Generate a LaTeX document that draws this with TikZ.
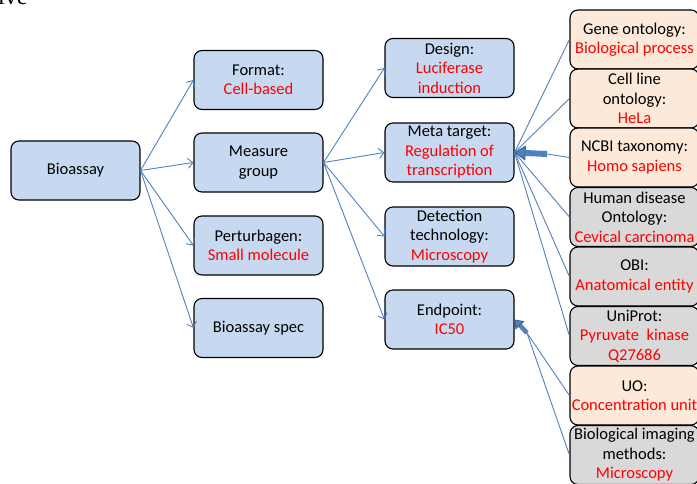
\documentclass[tikz,border=0pt]{standalone}
\usepackage{fontspec}
\setmainfont{Carlito}
\newfontfamily\titlefont{Liberation Serif}
\usetikzlibrary{arrows.meta}
\definecolor{boxblue}{HTML}{C6D9F1}
\definecolor{boxpeach}{HTML}{FDE9D9}
\definecolor{boxgray}{HTML}{D9D9D9}
\definecolor{linkblue}{HTML}{4F81BD}
\definecolor{linkdark}{HTML}{385D8A}
\definecolor{valred}{HTML}{FF0000}
\newcommand{\valtxt}[1]{\textcolor{valred}{#1}}

\begin{document}
\begin{tikzpicture}[x=1pt,y=-1pt,
	box/.style={draw, line width=1.1pt, rounded corners=8pt, minimum width=129pt, minimum height=59pt, inner sep=1pt, align=center, font=\fontsize{16.5}{19.5}\selectfont},
	bbox/.style={box, fill=boxblue},
	pbox/.style={box, fill=boxpeach},
	gbox/.style={box, fill=boxgray},
	link/.style={draw=linkblue, line width=0.9pt},
	arr/.style={link, -{Straight Barb[length=5pt,width=10pt]}},
	fat/.style={draw=linkblue, line width=6pt, -{Triangle[length=11pt,width=15pt,fill=linkblue,color=linkdark,line width=0.8pt]}},
	fatsm/.style={draw=linkblue, line width=4.5pt, -{Triangle[length=8pt,width=12pt,fill=linkblue,color=linkdark,line width=0.8pt]}}]

	\useasboundingbox (0,0) rectangle (697,483);
	\clip (0,0) rectangle (697,483);

	\node (T) [anchor=base west, inner sep=0pt, font=\titlefont\fontsize{24}{28}\selectfont] at (-2,4) {ive};

	\node (A) [bbox] at (75.5,170.5) {Bioassay};

	\node (B) [bbox] at (258.5,80) {Format:\\\valtxt{Cell-based}};
	\node (C) [bbox] at (258.5,162.5) {Measure\\group};
	\node (D) [bbox] at (258.5,245.5) {Perturbagen:\\\valtxt{Small molecule}};
	\node (E) [bbox] at (258.5,328) {Bioassay spec};

	\node (F) [bbox] at (449.5,68) {Design:\\\valtxt{Luciferase}\\\valtxt{induction}};
	\node (G) [bbox] at (449.5,152.5) {Meta target:\\\valtxt{Regulation of}\\\valtxt{transcription}};
	\node (H) [bbox] at (449.5,236.5) {Detection\\technology:\\\valtxt{Microscopy}};
	\node (I) [bbox] at (449.5,319.5) {Endpoint:\\\valtxt{IC50}};

	\node (a) [pbox] at (634.5,39.5) {Gene ontology:\\\valtxt{Biological process}};
	\node (b) [pbox] at (634.5,98.5) {Cell line\\ontology:\\\valtxt{HeLa}};
	\node (c) [pbox] at (634.5,157.5) {NCBI taxonomy:\\\valtxt{Homo sapiens}};
	\node (d) [gbox] at (634.5,217) {Human disease\\Ontology:\\\valtxt{Cevical carcinoma}};
	\node (e) [gbox] at (634.5,276.5) {OBI:\\\valtxt{Anatomical entity}};
	\node (f) [gbox] at (634.5,336) {UniProt:\\\valtxt{Pyruvate\ \ kinase}\\\valtxt{Q27686}};
	\node (g) [pbox] at (634.5,395.5) {UO:\\\valtxt{Concentration unit}};
	\node (h) [gbox] at (634.5,455) {Biological imaging\\methods:\\\valtxt{Microscopy}};

	\coordinate (s) at (547,154);
	\coordinate (t) at (527,333);

	\draw [arr] (A.east) -- (B.west);
	\draw [arr] (A.east) -- (C.west);
	\draw [arr] (A.east) -- (D.west);
	\draw [arr] (A.east) -- (E.west);

	\draw [arr] (C.east) -- (F.west);
	\draw [arr] (C.east) -- (G.west);
	\draw [arr] (C.east) -- (H.west);
	\draw [arr] (C.east) -- (I.west);

	\draw [link] (G.east) -- (a.west);
	\draw [link] (G.east) -- (b.west);
	\draw [link] (G.east) -- (d.west);
	\draw [link] (G.east) -- (e.west);
	\draw [link] (G.east) -- (f.west);
	\draw [link] (c.west) -- (s);
	\draw [fat] (s) -- (G.east);

	\draw [link] (g.west) -- (t);
	\draw [link] (h.west) -- (t);
	\draw [fatsm] (t) -- (I.east);

\end{tikzpicture}
\end{document}
